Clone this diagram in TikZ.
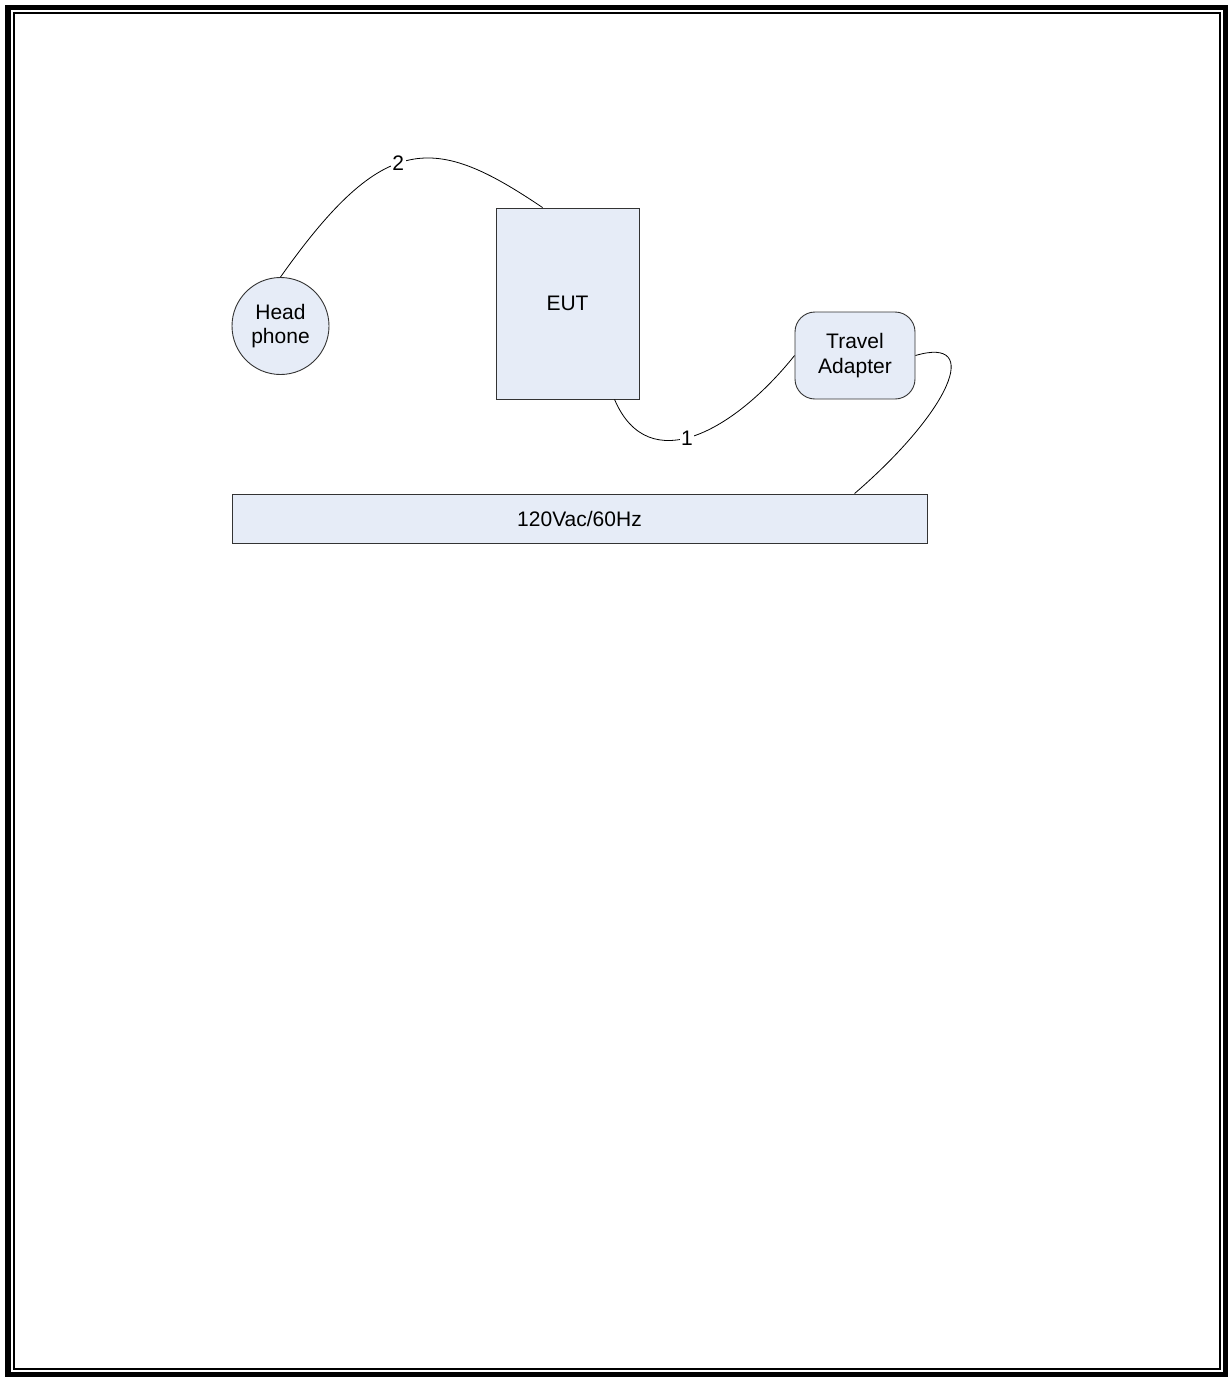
\documentclass[tikz,border=0pt]{standalone}
\usepackage{fontspec}
\setmainfont{Liberation Sans}
\definecolor{boxfill}{RGB}{230,236,247}

\begin{document}
\begin{tikzpicture}[x=1pt, y=-1pt,
  every node/.style={font=\fontsize{21}{24.5}\selectfont},
  unit/.style={draw=black!80, fill=boxfill, line width=0.9pt, align=center, inner sep=0pt},
  cable/.style={line width=0.8pt},
  tag/.style={fill=white, inner sep=1.5pt}]
\useasboundingbox (0,0) rectangle (1228,1377);
% page frame
\draw[line width=5.5pt] (8,7.5) rectangle (1225.5,1374.5);
\draw[line width=2pt] (14,13) rectangle (1220,1369);
% units
\node[unit, circle, minimum size=97pt] (phone) at (280.5,326) {Head\\phone};
\node[unit, minimum width=143pt, minimum height=191pt] (eut) at (567.5,303.5) {EUT};
\node[unit, rounded corners=20pt, minimum width=120pt, minimum height=87pt] (adapter) at (855,355.5) {Travel\\Adapter};
\node[unit, minimum width=695pt, minimum height=49pt] (mains) at (579.5,518.5) {120Vac/60Hz};
% cables
\draw[cable] (phone.north) .. controls +(104,-147) and +(-108,-73) .. ([xshift=47pt]eut.north west)
  node[tag, pos=0.45] {2};
\draw[cable] ([xshift=119pt]eut.south west) .. controls +(34,80) and +(-60,75) .. (adapter.west)
  node[tag, pos=0.46] {1};
\draw[cable] (adapter.east) .. controls +(68,-20) and +(95,-82) .. ([xshift=623pt]mains.north west);
\end{tikzpicture}
\end{document}
